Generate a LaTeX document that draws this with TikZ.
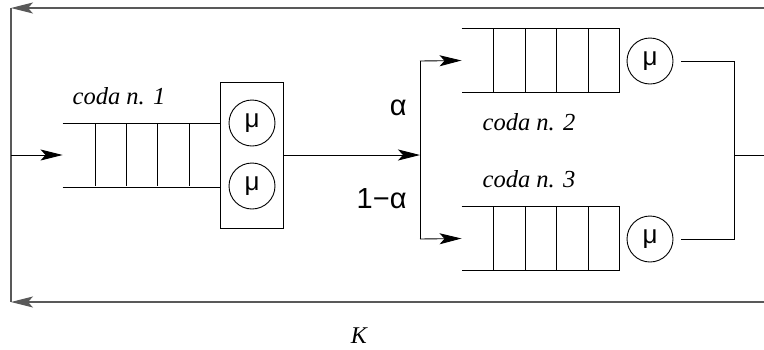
\documentclass[tikz,border=0pt]{standalone}
\usepackage{fontspec}
\setmainfont{Liberation Serif}
\newfontfamily\helv{Liberation Sans}
\usetikzlibrary{arrows.meta}
\begin{document}
\begin{tikzpicture}[x=1pt,y=-1pt,line width=0.9pt,
  arr/.style={-{Stealth[length=22pt,width=11pt,inset=5pt]}},
  loopline/.style={draw=black!65,line width=1.1pt},
  server/.style={circle,draw,minimum size=46pt,inner sep=0pt,font=\helv\fontsize{26}{26}\selectfont},
  qslot/.style={draw=none,minimum width=157pt,minimum height=63pt,inner sep=0pt},
  lbl/.style={font=\itshape\fontsize{24.5}{24.5}\selectfont,anchor=base},
  glbl/.style={font=\helv\fontsize{29}{29}\selectfont,anchor=base east,inner sep=0pt}]
\useasboundingbox (0,0) rectangle (764,349);
% queues (slot areas)
\node[qslot] (q1) at (141.5,155) {};
\node[qslot] (q2) at (540.5,60.5) {};
\node[qslot] (q3) at (540.5,238.5) {};
% queue 1 drawing
\draw (q1.north west) -- (q1.north east) (q1.south west) -- (q1.south east);
\foreach \x in {95,126,157,189} \draw (\x,124) -- (\x,186);
% queue 2 drawing
\draw (q2.north west) -- (q2.north east) -- (q2.south east) -- (q2.south west);
\foreach \x in {493,525,556,588} \draw (\x,29) -- (\x,92);
% queue 3 drawing
\draw (q3.north west) -- (q3.north east) -- (q3.south east) -- (q3.south west);
\foreach \x in {493,525,556,588} \draw (\x,207) -- (\x,270);
% server box of queue 1
\node[draw,minimum width=63pt,minimum height=146pt,inner sep=0pt] (box1) at (251.5,155) {};
\node[server] (s1a) at (252,123) {μ};
\node[server] (s1b) at (252,186) {μ};
% servers of queues 2 and 3
\node[server] (s2) at (650,61) {μ};
\node[server] (s3) at (650,239) {μ};
% junction coordinates
\coordinate (split) at (420,155);
\coordinate (splitT) at (420,61);
\coordinate (splitB) at (420,239);
\coordinate (joinT) at (734,61);
\coordinate (joinB) at (734,239);
\coordinate (joinM) at (734,155);
\coordinate (outR) at (764,155);
\coordinate (topR) at (764,8);
\coordinate (topL) at (11,8);
\coordinate (botR) at (764,302);
\coordinate (botL) at (11,302);
\coordinate (inL) at (11,155);
% connectors
\draw[arr] (box1.east) -- (split);
\draw (splitB) -- (splitT);
\draw[arr] (splitT) -- (q2.west);
\draw[arr] (splitB) -- (q3.west);
\draw ([xshift=8pt]s2.east) -- (joinT) -- (joinB) -- ([xshift=8pt]s3.east);
\draw (joinM) -- (outR);
% outer loop
\draw[loopline,arr] (topR) -- (topL);
\draw[loopline,arr] (botR) -- (botL);
\draw[loopline] (topL) -- (botL);
\draw[arr] (inL) -- (q1.west);
% labels
\node[lbl] (l1) at (119,104) {coda n. 1};
\node[lbl] (l2) at (529,130) {coda n. 2};
\node[lbl] (l3) at (529,187) {coda n. 3};
\node[glbl] (la) at (407,115) {α};
\node[glbl] (lb) at (407,208) {1−α};
\node[lbl,font=\itshape\fontsize{24}{24}\selectfont] (lk) at (359,343) {K};
\end{tikzpicture}
\end{document}
